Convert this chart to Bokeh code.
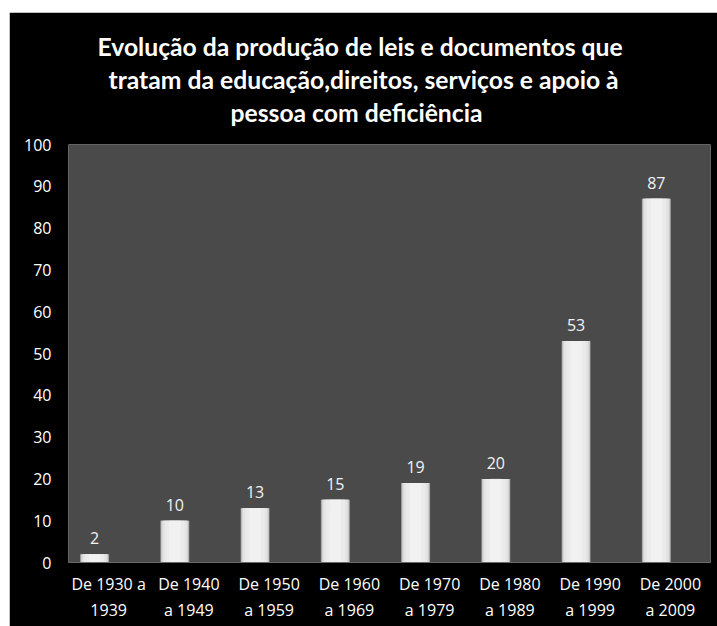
from bokeh.plotting import figure
from bokeh.models import ColumnDataSource, FactorRange, Range1d, FixedTicker, LabelSet, Title
from bokeh.transform import dodge
from bokeh.core.properties import value
from bokeh.embed import file_html
from bokeh.resources import INLINE

periods = ["De 1930 a\n1939", "De 1940\na 1949", "De 1950\na 1959", "De 1960\na 1969",
           "De 1970\na 1979", "De 1980\na 1989", "De 1990\na 1999", "De 2000\na 2009"]
counts = [2, 10, 13, 15, 19, 20, 53, 87]
y_ticks = [0, 10, 20, 30, 40, 50, 60, 70, 80, 90, 100]
title_lines = ["Evolução da produção de leis e documentos que",
               "tratam  da educação,direitos, serviços e apoio à",
               "pessoa com deficiência"]
title_offsets = [29, 40, 162]

src = ColumnDataSource(dict(period=periods, count=counts, label=[str(c) for c in counts]))

p = figure(width=708, height=614, margin=(12, 0, 0, 9),
           x_range=FactorRange(factors=periods), y_range=Range1d(0, 100),
           output_backend="svg", toolbar_location=None, title=None,
           background_fill_color="#4a4a4a", border_fill_color="black",
           outline_line_color=None,
           min_border_left=59, min_border_right=7, min_border_bottom=64, min_border_top=0)

# spacer between the title and the plot area
p.add_layout(Title(text=" ", text_font_size="13px", standoff=0, text_color="black"), "above")
for line, off in reversed(list(zip(title_lines, title_offsets))):
    p.add_layout(Title(text=line, align="left", offset=off, text_color="white", text_font="Lato",
                       text_font_size="24.7px", text_font_style="bold", standoff=2), "above")
# spacer above the title
p.add_layout(Title(text=" ", text_font_size="12px", standoff=0, text_color="black"), "above")

x = dodge("period", -0.175, range=p.x_range)
layers = [(0.362, "#8a8a8a"), (0.348, "#bdbdbd"), (0.33, "#d6d6d6"), (0.30, "#e4e4e4"), (0.24, "#ebebeb"), (0.14, "#f1f1f1")]
for w, c in layers:
    p.vbar(x=x, top="count", width=w, bottom=0, source=src, fill_color=c, line_color=None)

labels = LabelSet(x=x, y="count", text="label", source=src, text_align="center",
                  text_baseline="bottom", y_offset=10, text_color="#f2f2f2",
                  text_font=value("Open Sans"), text_font_size="16px")
p.add_layout(labels)

p.xgrid.grid_line_color = None
p.ygrid.grid_line_color = None

p.yaxis.ticker = FixedTicker(ticks=y_ticks)
for ax in (p.xaxis[0], p.yaxis[0]):
    ax.axis_line_color = None
    ax.major_tick_line_color = None
    ax.minor_tick_line_color = None
    ax.major_label_text_color = "white"
    ax.major_label_text_font = "Open Sans"
    ax.major_label_text_font_size = "16px"
p.xaxis.axis_line_color = "#6a6a6a"
p.yaxis.major_label_standoff = 11
p.xaxis.major_label_standoff = 4

open("out.html", "w").write(file_html(p, INLINE))
